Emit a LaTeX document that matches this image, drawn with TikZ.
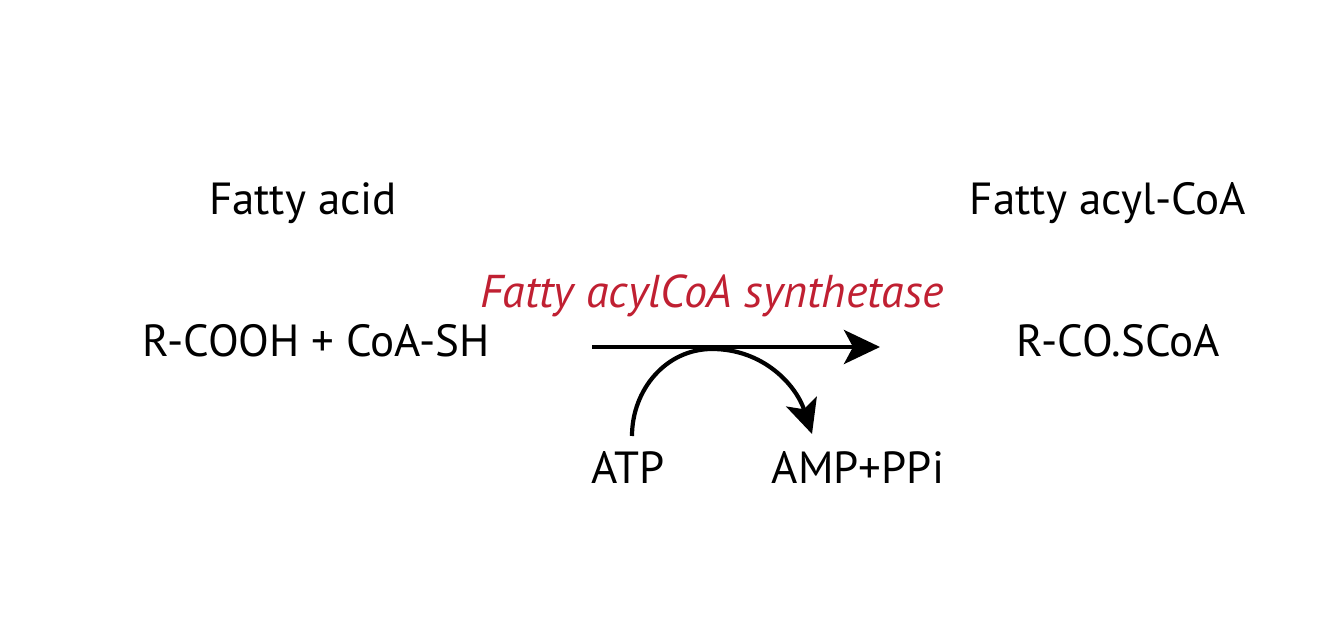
\documentclass[tikz,border=0pt]{standalone}
\usepackage{fontspec}
\setmainfont{PT Sans}
\usepackage{xcolor}
\usetikzlibrary{arrows.meta,positioning,calc}
\definecolor{enzred}{RGB}{192,32,50}
\tikzset{
  chemlabel/.style={inner sep=0pt, anchor=base, font=\fontsize{45}{52}\selectfont},
  enzlabel/.style={inner sep=0pt, anchor=base, text=enzred, font=\fontsize{46}{52}\selectfont\itshape},
  rxnarrow/.style={-{Stealth[length=36pt, width=34pt, inset=9pt]}, line width=4.4pt},
  sidearrow/.style={-{Stealth[length=34pt, width=32pt, inset=8pt]}, line width=4.2pt}
}
\begin{document}
\begin{tikzpicture}[x=1pt, y=-1pt]
\useasboundingbox (0,0) rectangle (1334,628);
\node[chemlabel] (acid) at (303,215) {Fatty acid};
\node[chemlabel] (acyl) at (1108,215) {Fatty acyl-CoA};
\node[chemlabel] (rcooh) at (316,357) {R-COOH + CoA-SH};
\node[chemlabel] (rco) at (1118,357) {R-CO.SCoA};
\node[enzlabel] (enz) at (712,308) {Fatty acylCoA synthetase};
\node[chemlabel] (atp) at (628,483) {ATP};
\node[chemlabel] (amp) at (858,483) {AMP+PPi};
\coordinate (arrs) at (592,347);
\coordinate (arre) at (880,347);
\coordinate (atpin) at (632,436);
\coordinate (ampout) at (812,434);
\draw[rxnarrow] (arrs) -- (arre);
\draw[sidearrow] (atpin) to[out=90, in=180] (712,349) to[out=0, in=108] (ampout);
\end{tikzpicture}
\end{document}
